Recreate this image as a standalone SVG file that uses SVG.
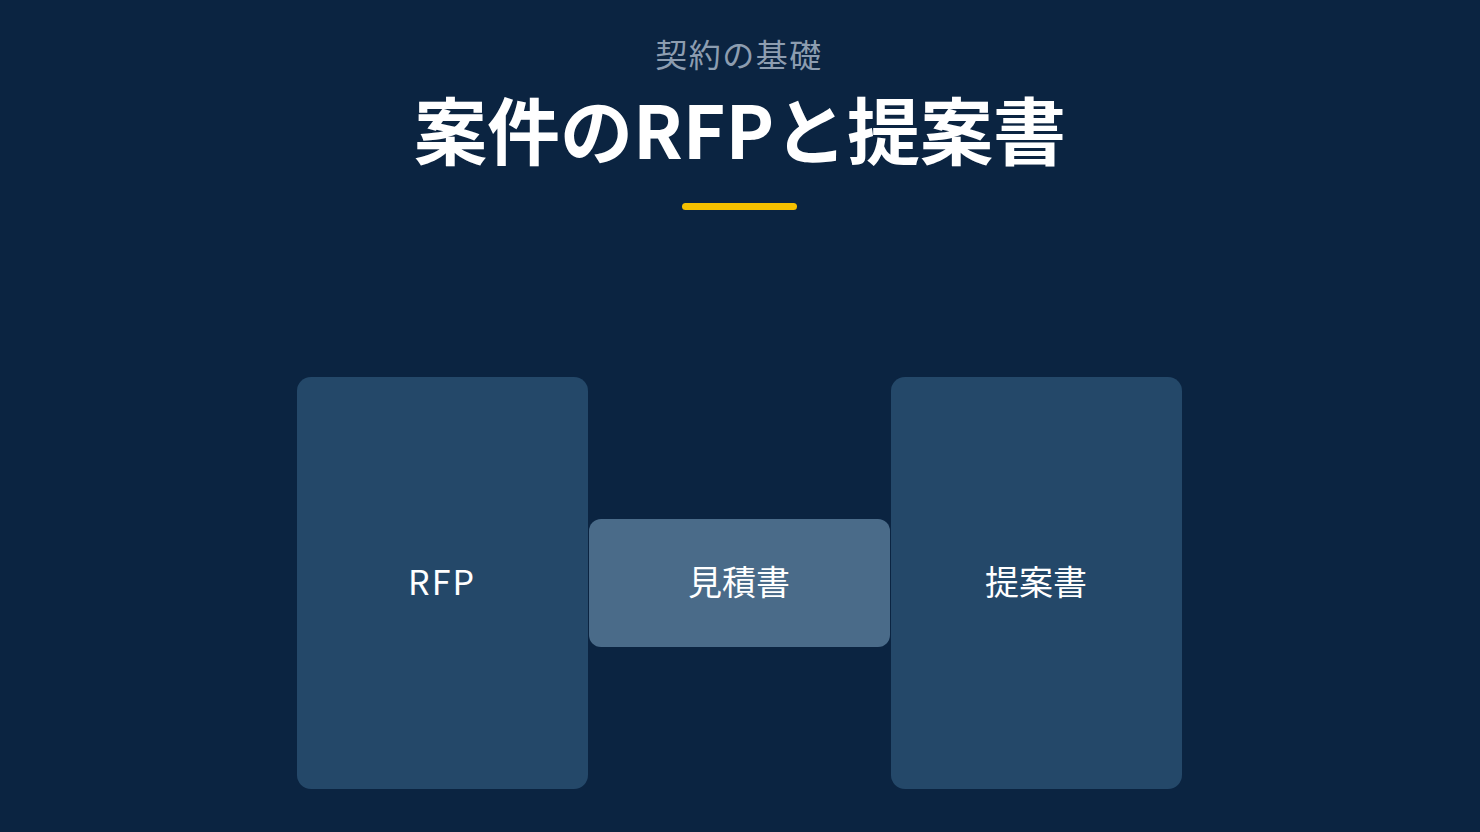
<svg xmlns="http://www.w3.org/2000/svg" width="1480" height="832" viewBox="0 0 1480 832">
<style>
.sub{font-family:"Noto Sans CJK JP","Noto Sans",sans-serif;font-size:32px;letter-spacing:1.5px;fill:#8d9db0;text-anchor:middle}
.title{font-family:"Noto Sans CJK JP","Noto Sans",sans-serif;font-size:73px;font-weight:bold;fill:#ffffff;text-anchor:middle}
.lbl{font-family:"Noto Sans CJK JP","Noto Sans",sans-serif;font-size:34px;fill:#ffffff;text-anchor:middle;dominant-baseline:central}
.big{fill:#244869}
.mid{fill:#4a6b89}
</style>
<rect width="1480" height="832" fill="#0b2441"/>
<text class="sub" x="739" y="67">契約の基礎</text>
<text class="title" x="740" y="159">案件のRFPと提案書</text>
<rect x="682" y="203" width="115" height="7" rx="3.5" fill="#f5c000"/>
<g id="connectors"></g>
<g id="rfp">
<rect class="big" x="297" y="377" width="291" height="412" rx="14"/>
<text class="lbl" x="442" y="580" letter-spacing="2">RFP</text>
</g>
<g id="estimate">
<rect class="mid" x="589" y="519" width="301" height="128" rx="12"/>
<text class="lbl" x="739" y="580">見積書</text>
</g>
<g id="proposal">
<rect class="big" x="891" y="377" width="291" height="412" rx="14"/>
<text class="lbl" x="1036" y="580">提案書</text>
</g>
</svg>
